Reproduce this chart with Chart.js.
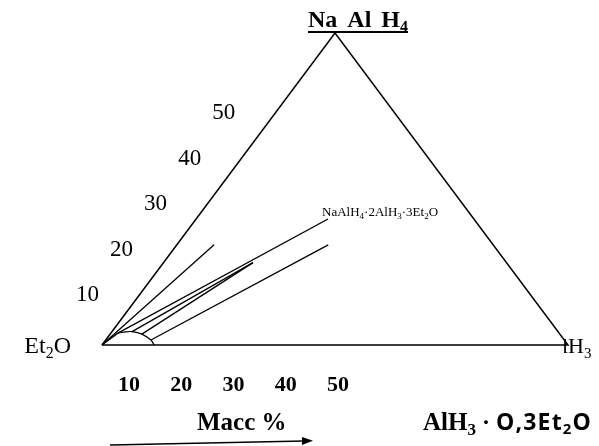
<!DOCTYPE html>
<html>
<head>
<meta charset="utf-8">
<script src="https://cdn.jsdelivr.net/npm/chart.js@4/dist/chart.umd.min.js"></script>
<style>
  html, body { margin: 0; padding: 0; background: #fff; }
  canvas { display: block; }
</style>
</head>
<body>
<canvas id="tern" width="599" height="446"></canvas>
<script>
// Ternary diagram NaAlH4 – AlH3 – Et2O (mass %).
// Every composition is written as [NaAlH4 %, AlH3 %]; Et2O is the remainder.

// Corners of the triangle: Et2O, NaAlH4, AlH3 (closed back to Et2O)
const cornerNaAlH4 = [0, 100, 0, 0];
const cornerAlH3   = [0, 0, 100, 0];

// Solubility curve near the Et2O corner
const curveNaAlH4 = [3.8, 4.2, 4.3, 3.5, 1.6, 0];
const curveAlH3   = [1.5, 2.9, 4.3, 6.8, 9.7, 11.2];

// Tie lines: start and end compositions
const tieStartNaAlH4 = [0,   0,    3.8,  4.3,  3.5,  1.6];
const tieStartAlH3   = [0,   0,    1.5,  4.3,  6.8,  9.7];
const tieEndNaAlH4   = [3.8, 32.1, 40.4, 26.4, 26.4, 32.1];
const tieEndAlH3     = [1.5, 8.0,  28.3, 19.2, 19.2, 32.5];

// Tick labels along the NaAlH4 side and along the base
const sideTicks = [10, 20, 30, 40, 50];
const baseTicks = [10, 20, 30, 40, 50];

// Index of the tie line that ends at the ternary compound
const compoundLine = 2;

const SERIF = '"Liberation Serif", "Times New Roman", serif';
const SANS  = '"Open Sans", "Liberation Sans", sans-serif';

// ternary -> cartesian data units (base 0..100, height 0..100)
const toXY = (a, b) => ({ x: b + a / 2, y: a });

const lineStyle = {
  showLine: true, pointRadius: 0, borderColor: '#000', backgroundColor: '#000',
  fill: false, clip: false
};

const datasets = [];
datasets.push(Object.assign({}, lineStyle, {
  label: 'triangle', borderWidth: 1.5,
  data: cornerNaAlH4.map((a, i) => toXY(a, cornerAlH3[i]))
}));
datasets.push(Object.assign({}, lineStyle, {
  label: 'curve', borderWidth: 1.2, tension: 0.3,
  data: curveNaAlH4.map((a, i) => toXY(a, curveAlH3[i]))
}));
tieStartNaAlH4.forEach((a, i) => {
  datasets.push(Object.assign({}, lineStyle, {
    label: 'tie' + i, borderWidth: 1.3,
    data: [toXY(a, tieStartAlH3[i]), toXY(tieEndNaAlH4[i], tieEndAlH3[i])]
  }));
});

// Text made of runs: [text, font, vertical offset]
function drawRuns(ctx, runs, x, y, align) {
  let total = 0;
  const widths = runs.map(r => { ctx.font = r[1]; const w = ctx.measureText(r[0]).width; total += w; return w; });
  let cx = align === 'right' ? x - total : align === 'center' ? x - total / 2 : x;
  const start = cx;
  runs.forEach((r, i) => {
    ctx.font = r[1];
    ctx.fillText(r[0], cx, y + (r[2] || 0));
    cx += widths[i];
  });
  return { start, end: cx };
}

const labelPlugin = {
  id: 'ternLabels',
  beforeDatasetsDraw(chart) {
    const ctx = chart.ctx;
    const xs = chart.scales.x, ys = chart.scales.y;
    const right = { x: xs.getPixelForValue(100), y: ys.getPixelForValue(0) };
    ctx.save();
    ctx.fillStyle = '#000';
    ctx.textBaseline = 'alphabetic';
    // AlH3 corner name, partly masked by the corner
    drawRuns(ctx, [['AlH', '22px ' + SERIF], ['3', '15px ' + SERIF, 5]], right.x - 22, right.y + 8, 'left');
    ctx.fillStyle = '#fff';
    ctx.fillRect(right.x - 30, right.y - 14, 26, 24);
    ctx.restore();
  },
  afterDraw(chart) {
    const ctx = chart.ctx;
    const xs = chart.scales.x, ys = chart.scales.y;
    const xt = chart.scales.xTick, yt = chart.scales.yTick;
    const P = (a, b) => { const p = toXY(a, b); return { x: xs.getPixelForValue(p.x), y: ys.getPixelForValue(p.y) }; };
    const apex = P(100, 0), left = P(0, 0);
    ctx.save();
    ctx.fillStyle = '#000';
    ctx.strokeStyle = '#000';
    ctx.textBaseline = 'alphabetic';

    // Apex name, underlined
    ctx.wordSpacing = '4px';
    const top = drawRuns(ctx, [['Na Al H', 'bold 24px ' + SERIF], ['4', 'bold 16px ' + SERIF, 5]], apex.x - 27, apex.y - 6, 'left');
    ctx.wordSpacing = '0px';
    ctx.lineWidth = 2.2;
    ctx.beginPath(); ctx.moveTo(top.start, apex.y - 1); ctx.lineTo(top.end, apex.y - 1); ctx.stroke();

    // Et2O corner name
    drawRuns(ctx, [['Et', '24px ' + SERIF], ['2', '16px ' + SERIF, 5], ['O', '24px ' + SERIF]], left.x - 31, left.y + 8, 'right');

    // Ticks along the NaAlH4 side
    ctx.font = '23px ' + SERIF;
    ctx.textAlign = 'center';
    sideTicks.forEach(v => {
      const py = yt.getPixelForValue(v);
      const edgeX = xs.getPixelForValue(ys.getValueForPixel(py) / 2);
      ctx.fillText(String(v), edgeX - 53, py + 8);
    });

    // Ticks along the base
    ctx.font = 'bold 22px ' + SERIF;
    baseTicks.forEach(v => {
      ctx.fillText(String(v), xt.getPixelForValue(v), left.y + 46);
    });
    ctx.textAlign = 'left';

    // Compound label at the end of its tie line
    const ce = P(tieEndNaAlH4[compoundLine], tieEndAlH3[compoundLine]);
    const f = '13px ' + SERIF, fs = '9px ' + SERIF;
    drawRuns(ctx, [['NaAlH', f], ['4', fs, 3], ['·2AlH', f], ['3', fs, 3], ['·3Et', f], ['2', fs, 3], ['O', f]],
      ce.x - 6, ce.y - 3, 'left');

    // Axis caption with arrow
    ctx.font = 'bold 25px ' + SERIF;
    ctx.fillText('Macc %', 197, 430);
    ctx.lineWidth = 1.5;
    ctx.beginPath(); ctx.moveTo(110, 445); ctx.lineTo(304, 441); ctx.stroke();
    ctx.beginPath();
    ctx.moveTo(313, 440.8); ctx.lineTo(302, 436.9); ctx.lineTo(302, 445.1); ctx.closePath(); ctx.fill();

    // Solvate formula
    ctx.letterSpacing = '0px';
    const head = drawRuns(ctx, [
      ['AlH', 'bold 25px ' + SERIF], ['3', 'bold 17px ' + SERIF, 5], [' · ', 'bold 24px ' + SERIF]
    ], 423, 430, 'left');
    ctx.letterSpacing = '1.2px';
    drawRuns(ctx, [
      ['O,3Et', 'bold 23px ' + SANS], ['2', 'bold 15px ' + SANS, 4], ['O', 'bold 23px ' + SANS]
    ], head.end, 430, 'left');
    ctx.letterSpacing = '0px';
    ctx.restore();
  }
};

new Chart(document.getElementById('tern'), {
  type: 'scatter',
  data: { datasets },
  options: {
    responsive: false,
    animation: false,
    events: [],
    layout: { padding: { left: 102, right: 31, top: 33, bottom: 101 } },
    plugins: { legend: { display: false }, tooltip: { enabled: false } },
    scales: {
      x: { type: 'linear', display: false, min: 0, max: 100 },
      y: { type: 'linear', display: false, min: 0, max: 100 },
      xTick: { type: 'linear', axis: 'x', position: 'bottom', display: false, min: 4.83, max: 94.0 },
      yTick: { type: 'linear', axis: 'y', position: 'left', display: false, min: -1.29, max: 67.1 }
    }
  },
  plugins: [labelPlugin]
});
</script>
</body>
</html>
